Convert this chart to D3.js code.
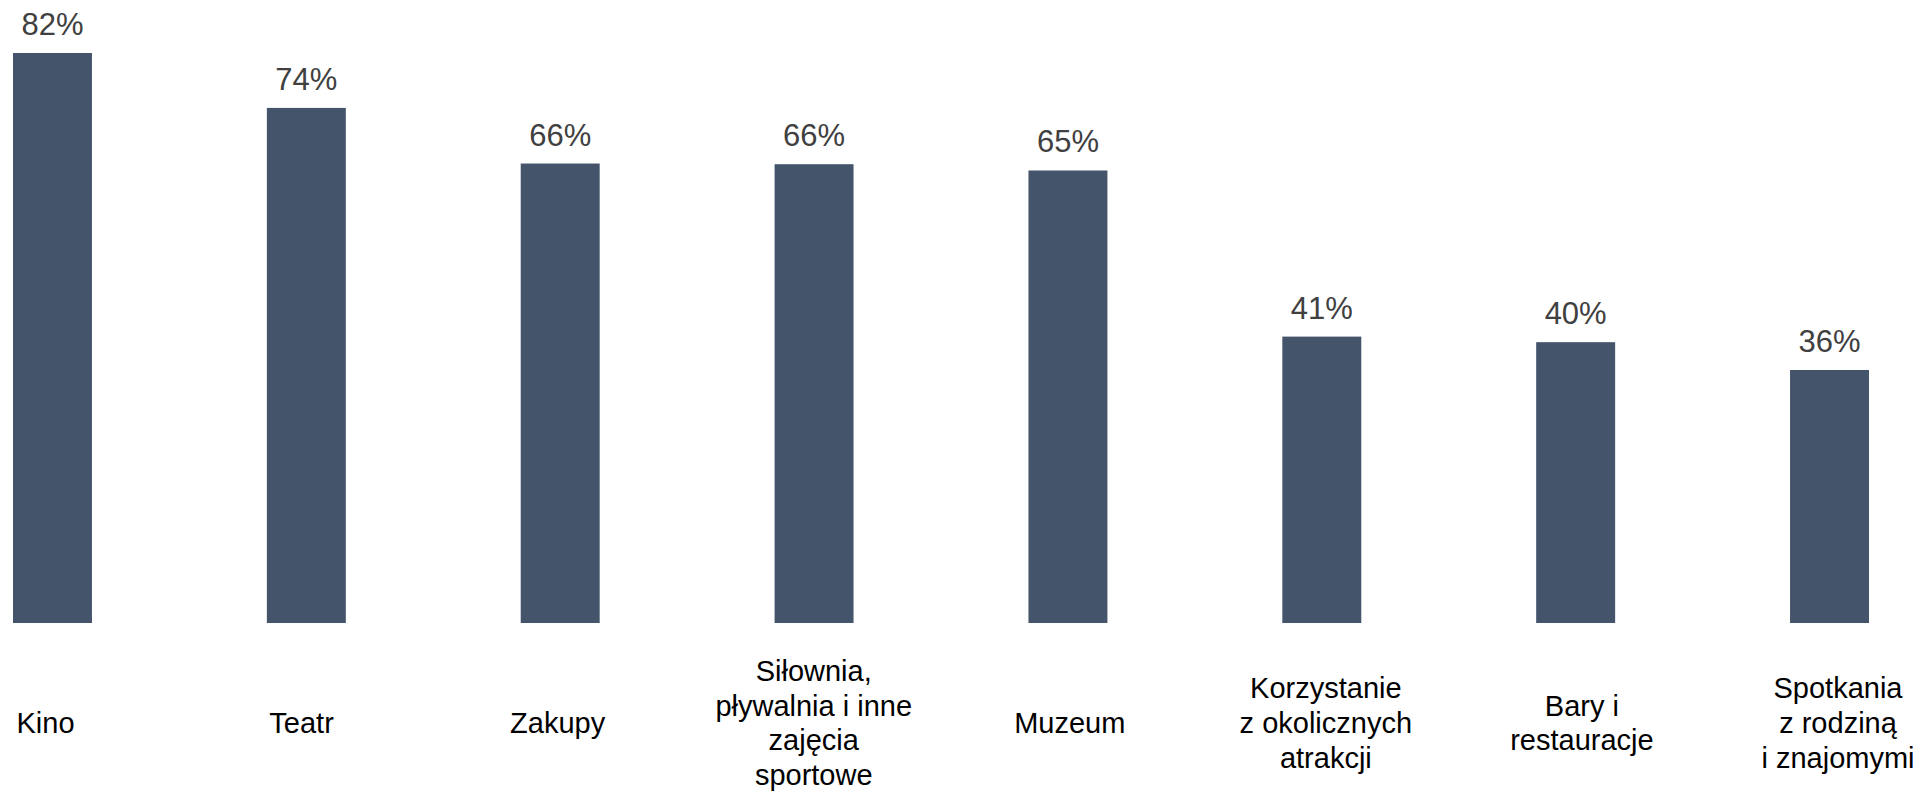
<!DOCTYPE html>
<html>
<head>
<meta charset="utf-8">
<style>
  body { margin: 0; background: #fff; }
  svg text { font-family: "Liberation Sans", Arial, sans-serif; }
</style>
</head>
<body>
<div id="chart"></div>
<script src="https://d3js.org/d3.v7.min.js"></script>
<script>
var width = 1924;
var height = 792;

// dane z wykresu
var categories = [
  ["Kino"],
  ["Teatr"],
  ["Zakupy"],
  ["Siłownia,", "pływalnia i inne", "zajęcia", "sportowe"],
  ["Muzeum"],
  ["Korzystanie", "z okolicznych", "atrakcji"],
  ["Bary i", "restauracje"],
  ["Spotkania", "z rodziną", "i znajomymi"]
];
var values = [82, 74.1, 66.1, 66.0, 65.1, 41.2, 40.4, 36.4];
var valueLabels = ["82%", "74%", "66%", "66%", "65%", "41%", "40%", "36%"];

var barColor = "#44546a";
var lineHeight = 34.7;

var svg = d3.select("#chart")
  .append("svg")
    .attr("width", width)
    .attr("height", height);

var x = d3.scaleBand()
  .domain(d3.range(values.length))
  .range([13, 1869])
  .paddingInner(0.689)
  .paddingOuter(0);

// podpisy kategorii mają trochę inny rozstaw niż słupki
var xLabel = d3.scalePoint()
  .domain(d3.range(values.length))
  .range([45.5, 1838]);

var y = d3.scaleLinear()
  .domain([0, 82])
  .range([623, 53]);

svg.append("g")
  .selectAll("rect")
  .data(values)
  .enter().append("rect")
    .attr("x", (d, i) => x(i))
    .attr("width", x.bandwidth())
    .attr("y", d => y(d))
    .attr("height", d => y(0) - y(d))
    .attr("fill", barColor);

// etykiety wartości
svg.append("g")
  .selectAll("text")
  .data(values)
  .enter().append("text")
    .attr("x", (d, i) => x(i) + x.bandwidth() / 2)
    .attr("y", d => y(d) - 18)
    .attr("text-anchor", "middle")
    .style("font-size", "31px")
    .style("fill", "#404040")
    .text((d, i) => valueLabels[i]);

// etykiety kategorii
var cat = svg.append("g")
  .selectAll("text")
  .data(categories)
  .enter().append("text")
    .attr("text-anchor", "middle")
    .style("font-size", "29px")
    .style("fill", "#000");

cat.each(function(lines, i) {
  var cx = xLabel(i);
  d3.select(this).selectAll("tspan")
    .data(lines)
    .enter().append("tspan")
      .attr("x", cx)
      .attr("y", (l, j) => 733 + (j - (lines.length - 1) / 2) * lineHeight)
      .text(l => l);
});
</script>
</body>
</html>
